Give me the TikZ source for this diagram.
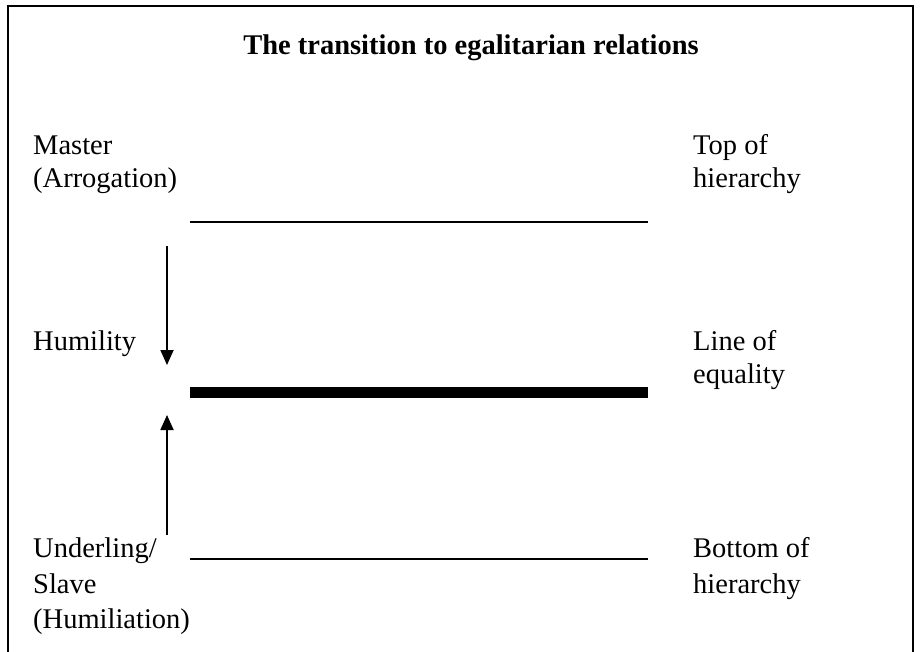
\documentclass[tikz,border=0pt]{standalone}
\usepackage{fontspec}
\setmainfont{Liberation Serif}
\usetikzlibrary{arrows.meta}
\begin{document}
\begin{tikzpicture}[x=1pt,y=-1pt,
  lbl/.style={anchor=base west, inner sep=0pt, font=\fontsize{28.5}{34}\selectfont},
  ttl/.style={anchor=base, inner sep=0pt, font=\bfseries\fontsize{28.5}{34}\selectfont},
  frame/.style={line width=2pt},
  level/.style={line width=1.8pt},
  equal/.style={line width=11pt},
  arr/.style={line width=1.8pt, -{Triangle[width=13pt,length=15pt]}}]
\useasboundingbox (0,0) rectangle (920,652);
% frame
\draw[frame] (8,652) -- (8,6) -- (913,6) -- (913,652);
% title
\node[ttl] (title) at (471,55) {The transition to egalitarian relations};
% left labels
\node[lbl] (master) at (33,155) {Master};
\node[lbl] (arrog) at (33,188) {(Arrogation)};
\node[lbl] (humility) at (33,350) {Humility};
\node[lbl] (underling) at (33,557) {Underling/};
\node[lbl] (slave) at (33,593) {Slave};
\node[lbl] (humil) at (33,628) {(Humiliation)};
% right labels
\node[lbl] (topof) at (693,155) {Top of};
\node[lbl] (hierA) at (693,188) {hierarchy};
\node[lbl] (lineof) at (693,350) {Line of};
\node[lbl] (equality) at (693,383) {equality};
\node[lbl] (bottomof) at (693,557) {Bottom of};
\node[lbl] (hierB) at (693,593) {hierarchy};
% level lines
\coordinate (tl) at (190,222); \coordinate (tr) at (648,222);
\coordinate (el) at (190,392); \coordinate (er) at (648,392);
\coordinate (bl) at (190,559); \coordinate (br) at (648,559);
\draw[level] (tl) -- (tr);
\draw[equal] (el) -- (er);
\draw[level] (bl) -- (br);
% arrows
\coordinate (d1) at (167,246); \coordinate (d2) at (167,365);
\coordinate (u1) at (167,535); \coordinate (u2) at (167,415);
\draw[arr] (d1) -- (d2);
\draw[arr] (u1) -- (u2);
\end{tikzpicture}
\end{document}
